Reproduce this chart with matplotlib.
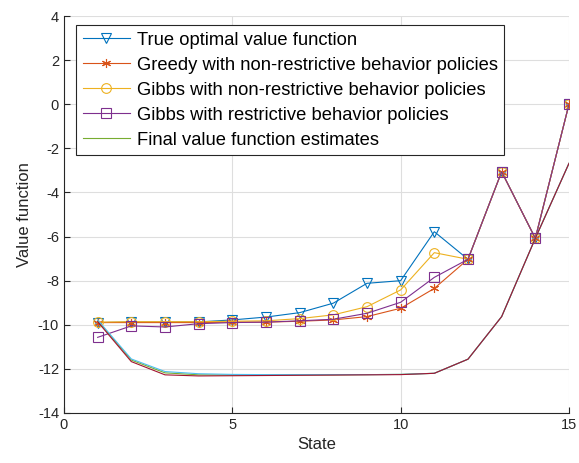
import matplotlib.pyplot as plt

plt.rcParams['font.family'] = ['Liberation Sans', 'DejaVu Sans']
plt.rcParams['axes.unicode_minus'] = False

states = list(range(1, 16))

true_optimal = [-9.9, -9.88, -9.88, -9.87, -9.78, -9.65, -9.45, -9.02, -8.12, -8.0,
                -5.78, -7.03, -3.06, -6.08, 0.0]
greedy_nonrestr = [-9.9, -9.9, -9.9, -9.9, -9.88, -9.88, -9.84, -9.78, -9.63, -9.25,
                   -8.35, -7.03, -3.06, -6.08, 0.0]
gibbs_nonrestr = [-9.88, -9.86, -9.86, -9.86, -9.84, -9.82, -9.72, -9.55, -9.18, -8.42,
                  -6.73, -7.03, -3.06, -6.08, 0.0]
gibbs_restr = [-10.57, -10.05, -10.1, -9.95, -9.9, -9.88, -9.82, -9.75, -9.48, -8.98,
               -7.85, -7.03, -3.06, -6.08, 0.0]

final_est_1 = [-9.82, -11.6, -12.18, -12.27, -12.28, -12.28, -12.27, -12.27, -12.26, -12.25,
               -12.2, -11.56, -9.63, -6.08, -2.68]
final_est_2 = [-9.78, -11.55, -12.12, -12.22, -12.25, -12.26, -12.26, -12.26, -12.26, -12.25,
               -12.2, -11.56, -9.63, -6.08, -2.68]
final_est_3 = [-9.86, -11.67, -12.27, -12.32, -12.31, -12.3, -12.29, -12.28, -12.27, -12.26,
               -12.2, -11.56, -9.63, -6.08, -2.68]

fig = plt.figure(figsize=(5.79, 4.63), dpi=100)
ax = fig.add_axes([0.1105, 0.108, 0.8722, 0.8574])

lw = 0.8
ax.plot(states, true_optimal, color='#0072BD', marker='v', mfc='none', ms=7, lw=lw,
        mew=0.8, label='True optimal value function')
ax.plot(states, greedy_nonrestr, color='#D95319', marker=(6, 2, 0), ms=6.5, lw=lw,
        mew=0.8, label='Greedy with non-restrictive behavior policies')
ax.plot(states, gibbs_nonrestr, color='#EDB120', marker='o', mfc='none', ms=7, lw=lw,
        mew=0.8, label='Gibbs with non-restrictive behavior policies')
ax.plot(states, gibbs_restr, color='#7E2F8E', marker='s', mfc='none', ms=7, lw=lw,
        mew=0.8, label='Gibbs with restrictive behavior policies')
ax.plot(states, final_est_1, color='#77AC30', lw=lw, label='Final value function estimates')
ax.plot(states, final_est_2, color='#4DBEEE', lw=lw)
ax.plot(states, final_est_3, color='#A2142F', lw=lw)

ax.set_xlim(0, 15)
ax.set_ylim(-14, 4)
ax.set_xticks([0, 5, 10, 15])
ax.set_yticks(range(-14, 5, 2))
ax.grid(True, color='#dedede', lw=0.8)
ax.set_axisbelow(True)
for s in ['top', 'right']:
    ax.spines[s].set_visible(False)
for s in ['left', 'bottom']:
    ax.spines[s].set_color('#262626')
    ax.spines[s].set_linewidth(0.8)
ax.tick_params(direction='in', length=4, colors='#262626', labelsize=10.5)
ax.set_xlabel('State', fontsize=12, color='#262626')
ax.set_ylabel('Value function', fontsize=12, color='#262626')

leg = ax.legend(loc='upper left', bbox_to_anchor=(0.024, 0.977), fontsize=13.2,
                fancybox=False, framealpha=1, edgecolor='#262626', handlelength=2.6,
                borderpad=0.35, labelspacing=0.44, handletextpad=0.35, borderaxespad=0)
leg.get_frame().set_linewidth(0.8)

fig.savefig('out.png', dpi=100)
